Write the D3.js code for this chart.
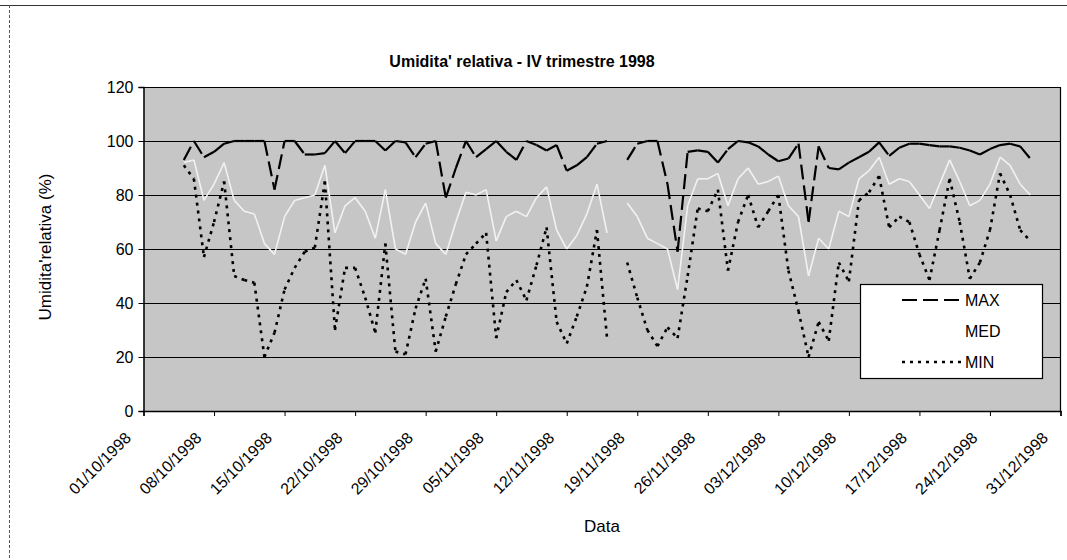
<!DOCTYPE html>
<html><head><meta charset="utf-8">
<script src="https://cdn.jsdelivr.net/npm/d3@7/dist/d3.min.js"></script>
<style>
body{margin:0;background:#fff;}
svg{display:block;font-family:Arial,"Liberation Sans",sans-serif;}
</style></head>
<body><svg id="c" width="1067" height="560"></svg>
<script>
// ---- data ----
const dates = [
"05/10/1998","06/10/1998","07/10/1998","08/10/1998","09/10/1998","10/10/1998","11/10/1998","12/10/1998","13/10/1998","14/10/1998",
"15/10/1998","16/10/1998","17/10/1998","18/10/1998","19/10/1998","20/10/1998","21/10/1998","22/10/1998","23/10/1998","24/10/1998",
"25/10/1998","26/10/1998","27/10/1998","28/10/1998","29/10/1998","30/10/1998","31/10/1998",
"01/11/1998","02/11/1998","03/11/1998","04/11/1998","05/11/1998","06/11/1998","07/11/1998","08/11/1998","09/11/1998","10/11/1998",
"11/11/1998","12/11/1998","13/11/1998","14/11/1998","15/11/1998","16/11/1998","17/11/1998","18/11/1998","19/11/1998","20/11/1998",
"21/11/1998","22/11/1998","23/11/1998","24/11/1998","25/11/1998","26/11/1998","27/11/1998","28/11/1998","29/11/1998","30/11/1998",
"01/12/1998","02/12/1998","03/12/1998","04/12/1998","05/12/1998","06/12/1998","07/12/1998","08/12/1998","09/12/1998","10/12/1998",
"11/12/1998","12/12/1998","13/12/1998","14/12/1998","15/12/1998","16/12/1998","17/12/1998","18/12/1998","19/12/1998","20/12/1998",
"21/12/1998","22/12/1998","23/12/1998","24/12/1998","25/12/1998","26/12/1998","27/12/1998","28/12/1998"];

const maxVals = [
93,100,94,96,99,100,100,100,100,82,100,100,95,95,95.5,100,95.5,100,100,100,
96.5,100,99.5,94,99,100,79,
90,100,94,97,100,96,93,100,98.5,96.5,98.5,89,91,94,99,100,null,93,99,100,
100,84,59,96,96.5,96,92,97,100,99.5,
98,95,92.5,93.5,99,70,98,90,89.5,92,94,96,99.5,94.5,97.5,99,99,98.5,
98,98,97.5,96.5,95,97,98.5,99,98,93.5];

const medVals = [
92,93,78,84,92,78,74,73,62,58,72,78,79,80,91,66,76,79,74,64,
82,60,58,70,77,62,58,
70,81,80,82,63,72,74,72,79,83,67,60,65,73,84,66,null,77,72,64,
62,60,45,76,86,86,88,76,86,90,
84,85,87,76,72,50,64,60,74,72,86,89,94,84,86,85,80,75,
84,93,85,76,78,84,94,91,84,80];

const minVals = [
91,86,57,70,85,50,48.5,47.5,20,29,45,53,59,60.5,85,30,53,53,42,29,
62,22,21,38,49,22,35,
47,58,62,66,27,44,48.5,41,54,68,33,25,35,46,67,27,null,55,42,30,
24,31,27,50,75,74,82,52,70,80,
68,74,80,52,37,20,33,26,55,48,78,81,87,68,72,70,58,48.5,
67,86,70,49,55,67,88,80,67,63];

const yTicks = [0,20,40,60,80,100,120];
const xTickLabels = ["01/10/1998","08/10/1998","15/10/1998","22/10/1998","29/10/1998","05/11/1998","12/11/1998",
"19/11/1998","26/11/1998","03/12/1998","10/12/1998","17/12/1998","24/12/1998","31/12/1998"];
const seriesNames = ["MAX","MED","MIN"];

// ---- drawing ----
const parse = d3.timeParse("%d/%m/%Y");
const svg = d3.select("#c");
const L = 143.5, R = 1060.5, T = 87, B = 411;

const x = d3.scaleTime().domain([parse("01/10/1998"), parse("31/12/1998")]).range([L, R]);
const y = d3.scaleLinear().domain([0, 120]).range([B, T]);

// outer frame
svg.append("line").attr("x1",0).attr("x2",1067).attr("y1",5.5).attr("y2",5.5).attr("stroke","#333").attr("stroke-width",1);
svg.append("line").attr("x1",9.5).attr("x2",9.5).attr("y1",5).attr("y2",560).attr("stroke","#555").attr("stroke-width",1).attr("stroke-dasharray","3,2");

// plot background
svg.append("rect").attr("x",L).attr("y",T).attr("width",R-L).attr("height",B-T).attr("fill","#c6c6c6");

// gridlines
const grid = svg.append("g").attr("transform",`translate(${L},0)`)
  .call(d3.axisLeft(y).tickValues(yTicks).tickSize(-(R-L)).tickFormat(""));
grid.select(".domain").remove();
grid.selectAll("line").attr("stroke","#000").attr("stroke-width",1.2);

// right border
svg.append("line").attr("x1",R).attr("x2",R).attr("y1",T).attr("y2",B).attr("stroke","#000").attr("stroke-width",1.2);

// series segments (dash pattern restarts on every segment)
function drawSeries(vals, stroke, width, dash){
  const pts = vals.map((v,i)=>({d:parse(dates[i]), v}));
  const segs = d3.pairs(pts).filter(([a,b])=>a.v!=null && b.v!=null);
  svg.append("g").selectAll("line").data(segs).join("line")
    .attr("x1",s=>x(s[0].d)).attr("y1",s=>y(s[0].v))
    .attr("x2",s=>x(s[1].d)).attr("y2",s=>y(s[1].v))
    .attr("stroke",stroke).attr("stroke-width",width)
    .attr("stroke-dasharray",dash).attr("stroke-linecap","butt");
}
drawSeries(maxVals,"#000",2.2,"15,6");
drawSeries(medVals,"#f2f2f2",1.6,null);
drawSeries(minVals,"#000",2.6,"3,5");

// y axis
const ya = svg.append("g").attr("transform",`translate(${L},0)`)
  .call(d3.axisLeft(y).tickValues(yTicks).tickSize(5).tickPadding(5));
ya.select(".domain").attr("stroke","#000").attr("stroke-width",1.5);
ya.selectAll("line").attr("stroke","#000");
ya.selectAll("text").attr("font-size",16).attr("fill","#000").attr("font-family","Arial,'Liberation Sans',sans-serif");

// x axis
const xa = svg.append("g").attr("transform",`translate(0,${B})`)
  .call(d3.axisBottom(x).tickValues(xTickLabels.map(parse)).tickSize(5).tickFormat(d3.timeFormat("%d/%m/%Y")));
xa.select(".domain").attr("stroke","#000").attr("stroke-width",1.5);
xa.selectAll("line").attr("stroke","#000");
xa.selectAll("text")
  .attr("font-size",16).attr("fill","#000").attr("font-family","Arial,'Liberation Sans',sans-serif")
  .attr("text-anchor","end").attr("dy",null).attr("y",0)
  .attr("transform","translate(-12,28) rotate(-45)");

// titles
svg.append("text").attr("x",522).attr("y",67).attr("text-anchor","middle")
  .attr("font-size",16).attr("font-weight","bold").text("Umidita' relativa - IV trimestre 1998");
svg.append("text").attr("x",602).attr("y",532).attr("text-anchor","middle")
  .attr("font-size",17).text("Data");
svg.append("text").attr("transform","translate(51,247) rotate(-90)").attr("text-anchor","middle")
  .attr("font-size",17).text("Umidita'relativa (%)");

// legend
const lg = svg.append("g");
lg.append("rect").attr("x",860.5).attr("y",284.5).attr("width",182).attr("height",94)
  .attr("fill","#fff").attr("stroke","#000").attr("stroke-width",1.2);
const legStyles = [
  {stroke:"#000",w:2.2,dash:"15,6"},
  {stroke:"#fff",w:2,dash:null},
  {stroke:"#000",w:2.6,dash:"3,5"}];
seriesNames.forEach((n,i)=>{
  const yy = 300 + i*31;
  lg.append("line").attr("x1",902).attr("x2",961).attr("y1",yy).attr("y2",yy)
    .attr("stroke",legStyles[i].stroke).attr("stroke-width",legStyles[i].w).attr("stroke-dasharray",legStyles[i].dash);
  lg.append("text").attr("x",965).attr("y",yy+6).attr("font-size",16).text(n);
});
</script></body></html>
